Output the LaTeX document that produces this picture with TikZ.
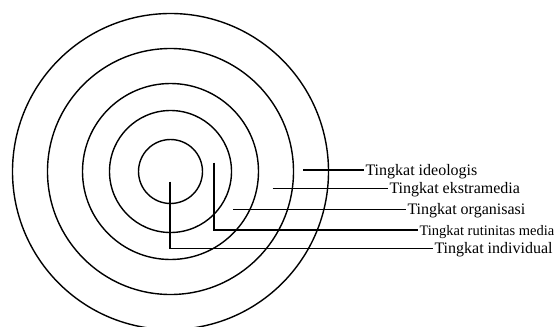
\documentclass[tikz,border=0pt]{standalone}
\usepackage{fontspec}
\setmainfont{Liberation Serif}
\begin{document}
\begin{tikzpicture}[x=1pt,y=-1pt,
  ring/.style={draw, line width=1.4pt},
  lead/.style={draw, line width=1.4pt},
  lab/.style={anchor=base west, inner sep=0pt, outer xsep=1.5pt, font=\fontsize{16}{18}\selectfont},
  smalllab/.style={lab, font=\fontsize{14.5}{17}\selectfont}]
\useasboundingbox (0,0) rectangle (555,327);
\coordinate (c) at (170.5,171.5);
\foreach \r in {32,61,88,123,158} \draw[ring] (c) circle[radius=\r pt];
% labels
\node[lab] (l1) at (364,175.5) {Tingkat ideologis};
\node[lab] (l2) at (388,193.8) {Tingkat ekstramedia};
\node[lab] (l3) at (406,214.8) {Tingkat organisasi};
\node[smalllab] (l4) at (418,235.2) {Tingkat rutinitas media};
\node[lab] (l5) at (433,253.8) {Tingkat individual};
% leader start points
\coordinate (a1) at (303.3,170);
\coordinate (a2) at (272.7,188.3);
\coordinate (a3) at (233.3,209.3);
\coordinate (a4) at (214,162.7);
\coordinate (k4) at (214,230);
\coordinate (a5) at (170,181.7);
\coordinate (k5) at (170,248.3);
\draw[lead] (a1) -- (a1 -| l1.west);
\draw[lead] (a2) -- (a2 -| l2.west);
\draw[lead] (a3) -- (a3 -| l3.west);
\draw[lead] (a4) -- (k4) -- (k4 -| l4.west);
\draw[lead] (a5) -- (k5) -- (k5 -| l5.west);
\end{tikzpicture}
\end{document}
